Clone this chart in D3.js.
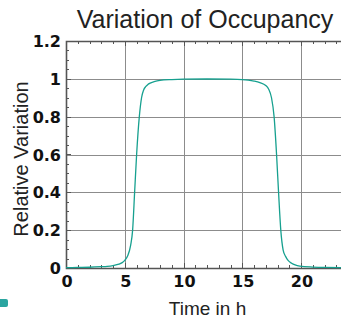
<!DOCTYPE html>
<html><head><meta charset="utf-8">
<script src="https://cdn.jsdelivr.net/npm/d3@7"></script>
<style>html,body{margin:0;padding:0;background:#fff;overflow:hidden}</style>
</head><body>
<svg id="c" width="341" height="320"></svg>
<script>
const timeH = [0,1,2,3,3.5,4,4.5,4.75,5,5.25,5.5,5.67,5.84,6.01,6.24,6.43,6.6,6.8,7,7.5,8,9,10,12,14,15,15.5,16,16.5,17,17.25,17.49,17.71,17.92,18.09,18.28,18.48,18.7,18.9,19.2,19.5,19.9,21,22,24];
const occupancy = [0.002,0.003,0.004,0.007,0.009,0.013,0.02,0.027,0.04,0.065,0.12,0.2,0.4,0.6,0.8,0.9,0.94,0.96,0.972,0.985,0.992,0.996,0.998,0.999,0.998,0.996,0.993,0.988,0.98,0.965,0.945,0.9,0.8,0.6,0.4,0.2,0.095,0.06,0.04,0.025,0.016,0.01,0.005,0.003,0.002];
const xTicks = [0,5,10,15,20];
const yTicks = [0,0.2,0.4,0.6,0.8,1,1.2];
const yTickLabels = ["0","0.2","0.4","0.6","0.8","1","1.2"];
const titleText = "Variation of Occupancy";
const xTitle = "Time in h";
const yTitle = "Relative Variation";

const svg = d3.select("#c");
const L=66, R=348, T=41, B=268;
const x = d3.scaleLinear().domain([0,24]).range([L,R]);
const y = d3.scaleLinear().domain([0,1.2]).range([B,T]);
const frame = "#555", grid = "#8c8c8c";

// gridlines
svg.append("g").selectAll("line").data(xTicks.filter(d=>d>0)).join("line")
  .attr("x1",d=>Math.round(x(d))+0.5).attr("x2",d=>Math.round(x(d))+0.5)
  .attr("y1",T).attr("y2",B).attr("stroke",grid).attr("stroke-width",1);
svg.append("g").selectAll("line").data(yTicks.filter(d=>d>0&&d<1.2)).join("line")
  .attr("y1",d=>Math.round(y(d))+0.5).attr("y2",d=>Math.round(y(d))+0.5)
  .attr("x1",L).attr("x2",R).attr("stroke",grid).attr("stroke-width",1);

// minor/major ticks inward
const xMinor = d3.range(0,25,1);
const yMinor = d3.range(0,1.2001,0.05);
const tk = svg.append("g").attr("stroke",frame).attr("stroke-width",1);
xMinor.forEach(d=>{
  const len = xTicks.includes(d)?5:3;
  const px = Math.round(x(d))+0.5;
  tk.append("line").attr("x1",px).attr("x2",px).attr("y1",B).attr("y2",B-len);
  tk.append("line").attr("x1",px).attr("x2",px).attr("y1",T).attr("y2",T+len);
});
yMinor.forEach(d=>{
  const major = Math.abs(d*5-Math.round(d*5))<1e-6;
  const len = major?5:3;
  const py = Math.round(y(d))+0.5;
  tk.append("line").attr("x1",L).attr("x2",L+len).attr("y1",py).attr("y2",py);
});

// frame
svg.append("path").attr("d",`M${R},${T+0.5}H${L+0.5}V${B+0.5}H${R}`)
  .attr("fill","none").attr("stroke",frame).attr("stroke-width",1.6);

// curve
const line = d3.line().x((d,i)=>x(timeH[i])).y(d=>y(d)).curve(d3.curveMonotoneX);
svg.append("path").attr("d",line(occupancy)).attr("fill","none")
  .attr("stroke","#16a08f").attr("stroke-width",1.3);

// tick labels
svg.append("g").selectAll("text").data(xTicks).join("text")
  .attr("x",d=>x(d)+1).attr("y",287).attr("text-anchor","middle")
  .attr("font-family","DejaVu Sans").attr("font-weight","bold").attr("font-size",16)
  .attr("fill","#111").text(d=>d);
svg.append("g").selectAll("text").data(yTicks).join("text")
  .attr("x",61).attr("y",d=>y(d)+6).attr("text-anchor","end")
  .attr("font-family","DejaVu Sans").attr("font-weight","bold").attr("font-size",16)
  .attr("fill","#111").text((d,i)=>yTickLabels[i]);

// titles
svg.append("text").attr("x",205).attr("y",28).attr("text-anchor","middle")
  .attr("font-family","Liberation Sans, Arial").attr("font-size",25).attr("fill","#222").text(titleText);
svg.append("text").attr("x",207.5).attr("y",315).attr("text-anchor","middle")
  .attr("font-family","Liberation Sans, Arial").attr("font-size",19).attr("fill","#222").text(xTitle);
svg.append("text").attr("transform","translate(28,159) rotate(-90)").attr("text-anchor","middle")
  .attr("font-family","Liberation Sans, Arial").attr("font-size",20).attr("fill","#222").text(yTitle);

// clipped legend swatch
svg.append("rect").attr("x",-6).attr("y",299).attr("width",14).attr("height",8).attr("rx",2)
  .attr("fill","#2aa5a0");
</script>
</body></html>
